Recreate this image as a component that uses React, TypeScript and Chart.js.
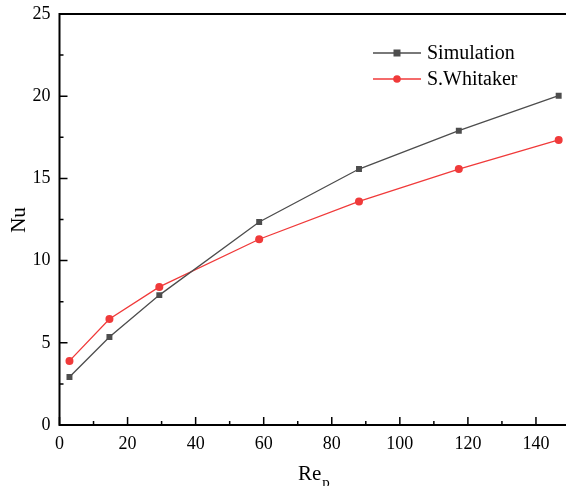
import React, { useEffect, useRef } from "react";
import { Chart, registerables } from "chart.js";

Chart.register(...registerables);

// Particle Reynolds number (x) and Nusselt number (y)
const reValues = [2.93, 14.67, 29.33, 58.67, 88, 117.33, 146.67];
const simulationNu = [2.92, 5.35, 7.9, 12.35, 15.57, 17.9, 20.03];
const whitakerNu = [3.9, 6.45, 8.4, 11.3, 13.6, 15.57, 17.34];

const xTickValues = [0, 20, 40, 60, 80, 100, 120, 140];
const yTickValues = [0, 5, 10, 15, 20, 25];

const seriesNames = ["Simulation", "S.Whitaker"];
const seriesColors = ["#4d4d4d", "#f03a3a"];
const xTitle = "Re";
const xTitleSub = "p";
const yTitle = "Nu";

const SERIF = "'Liberation Serif', 'DejaVu Serif', serif";

// Axis lines with inward major/minor ticks, a top border, legend and axis titles
const decorPlugin = {
  id: "decor",
  afterDatasetsDraw(chart: any) {
    const { ctx, chartArea, scales } = chart;
    const { left, right, top, bottom } = chartArea;
    const xs = scales.x;
    const ys = scales.y;
    ctx.save();
    ctx.strokeStyle = "#000";
    ctx.lineWidth = 2;
    ctx.beginPath();
    ctx.moveTo(left, top);
    ctx.lineTo(right + 5, top);
    ctx.moveTo(left, top - 1);
    ctx.lineTo(left, bottom);
    ctx.lineTo(right + 5, bottom);
    ctx.stroke();

    ctx.lineWidth = 1.5;
    ctx.beginPath();
    for (let v = 0; v <= 150; v += 10) {
      const px = xs.getPixelForValue(v);
      const len = v % 20 === 0 ? 8 : 4;
      ctx.moveTo(px, bottom);
      ctx.lineTo(px, bottom - len);
    }
    for (let v = 0; v <= 25; v += 2.5) {
      const py = ys.getPixelForValue(v);
      const len = v % 5 === 0 ? 8 : 4;
      ctx.moveTo(left, py);
      ctx.lineTo(left + len, py);
    }
    ctx.stroke();

    // legend
    const legendY = [53, 79];
    ctx.font = `20px ${SERIF}`;
    ctx.textBaseline = "middle";
    ctx.textAlign = "left";
    seriesNames.forEach((name, i) => {
      const y = legendY[i];
      ctx.strokeStyle = seriesColors[i];
      ctx.lineWidth = 1.3;
      ctx.beginPath();
      ctx.moveTo(373, y);
      ctx.lineTo(421, y);
      ctx.stroke();
      ctx.fillStyle = seriesColors[i];
      if (i === 0) {
        ctx.fillRect(397 - 3.5, y - 3.5, 7, 7);
      } else {
        ctx.beginPath();
        ctx.arc(397, y, 3.8, 0, Math.PI * 2);
        ctx.fill();
      }
      ctx.fillStyle = "#000";
      ctx.fillText(name, 427, y + 1);
    });

    // axis titles
    ctx.fillStyle = "#000";
    ctx.textBaseline = "alphabetic";
    ctx.font = `21px ${SERIF}`;
    ctx.fillText(xTitle, 298, 480);
    const w = ctx.measureText(xTitle).width;
    ctx.font = `15px ${SERIF}`;
    ctx.fillText(xTitleSub, 298 + w + 1, 487);

    ctx.save();
    ctx.translate(25, 220);
    ctx.rotate(-Math.PI / 2);
    ctx.textAlign = "center";
    ctx.font = `21px ${SERIF}`;
    ctx.fillText(yTitle, 0, 0);
    ctx.restore();
    ctx.restore();
  },
};

export default function App() {
  const canvasRef = useRef<HTMLCanvasElement>(null);

  useEffect(() => {
    const canvas = canvasRef.current;
    if (!canvas) return;
    const chart = new Chart(canvas, {
      type: "line",
      data: {
        datasets: [
          {
            label: seriesNames[0],
            data: reValues.map((x, i) => ({ x, y: simulationNu[i] })),
            borderColor: seriesColors[0],
            backgroundColor: seriesColors[0],
            borderWidth: 1.3,
            pointStyle: "rect",
            pointRadius: 4.2,
            pointBorderWidth: 0,
            tension: 0,
          },
          {
            label: seriesNames[1],
            data: reValues.map((x, i) => ({ x, y: whitakerNu[i] })),
            borderColor: seriesColors[1],
            backgroundColor: seriesColors[1],
            borderWidth: 1.3,
            pointStyle: "circle",
            pointRadius: 4,
            pointBorderWidth: 0,
            tension: 0,
          },
        ],
      },
      options: {
        animation: false,
        responsive: false,
        maintainAspectRatio: false,
        layout: { padding: { top: 14, right: 10, left: 0, bottom: 0 } },
        plugins: {
          legend: { display: false },
          tooltip: { enabled: false },
        },
        scales: {
          x: {
            type: "linear",
            min: 0,
            max: 150,
            grid: { display: false, drawTicks: false },
            border: { display: false },
            afterBuildTicks: (s: any) => {
              s.ticks = xTickValues.map((value) => ({ value }));
            },
            ticks: {
              autoSkip: false,
              maxRotation: 0,
              padding: 8,
              color: "#000",
              font: { family: SERIF, size: 18 },
            },
            afterFit: (s: any) => {
              s.height = 61;
              s.paddingLeft = 0;
              s.paddingRight = 0;
            },
          },
          y: {
            min: 0,
            max: 25,
            grid: { display: false, drawTicks: false },
            border: { display: false },
            afterBuildTicks: (s: any) => {
              s.ticks = yTickValues.map((value) => ({ value }));
            },
            ticks: {
              autoSkip: false,
              padding: 9,
              color: "#000",
              font: { family: SERIF, size: 18 },
            },
            afterFit: (s: any) => {
              s.width = 59.5;
              s.paddingTop = 0;
              s.paddingBottom = 0;
            },
          },
        },
      },
      plugins: [decorPlugin],
    });
    return () => chart.destroy();
  }, []);

  return (
    <div
      style={{
        position: "fixed",
        left: 0,
        top: 0,
        width: 566,
        height: 486,
        overflow: "hidden",
        background: "#fff",
      }}
    >
      <canvas ref={canvasRef} width={580} height={486} style={{ display: "block" }} />
    </div>
  );
}
